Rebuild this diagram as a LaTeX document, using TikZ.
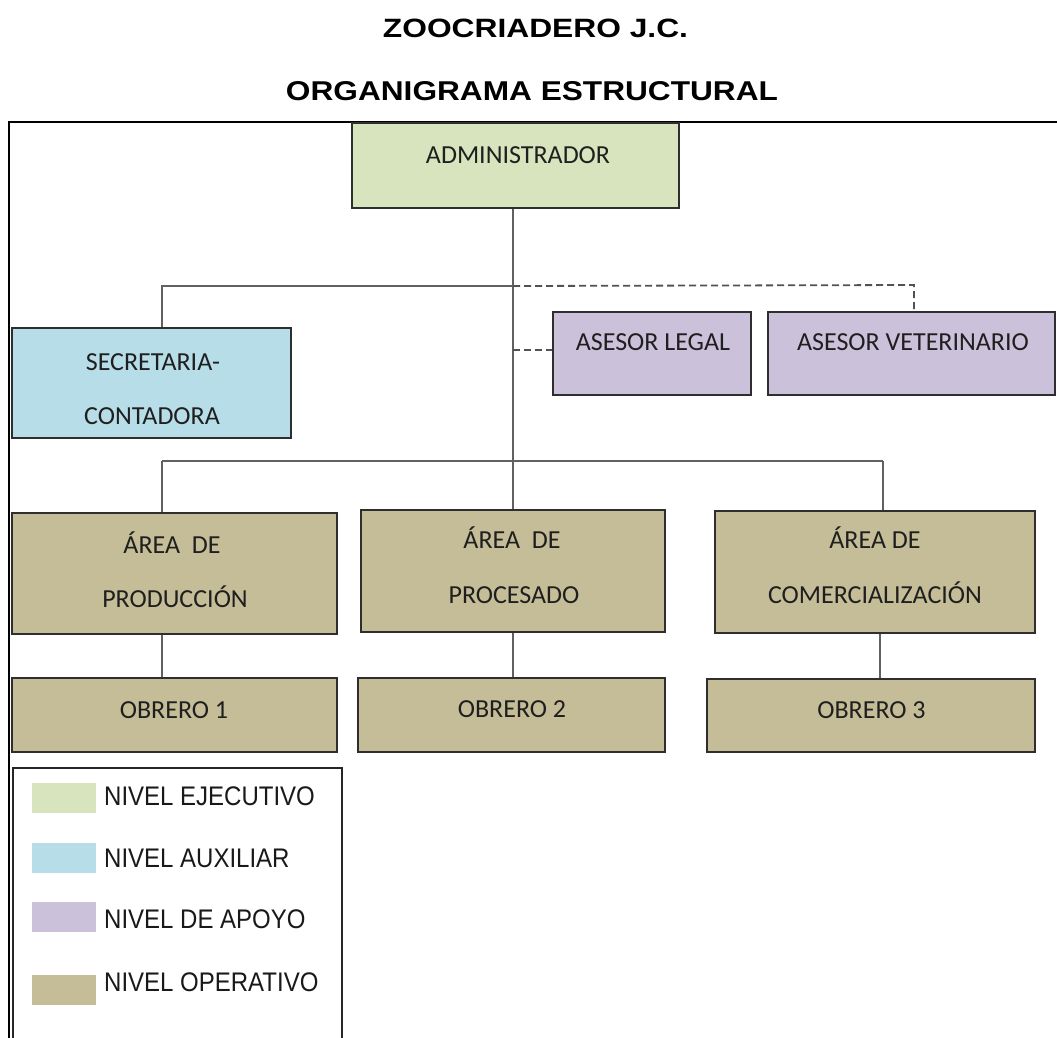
\documentclass[tikz,border=0pt]{standalone}
\usepackage{fontspec}
\setmainfont{Carlito}
\newfontfamily\arialfont{Liberation Sans}
\usepackage{graphicx}
\definecolor{cEje}{HTML}{D7E4BD}
\definecolor{cAux}{HTML}{B7DEE8}
\definecolor{cApo}{HTML}{CCC1DA}
\definecolor{cOpe}{HTML}{C4BD97}
\tikzset{
  orgbox/.style={draw=black!82, line width=1.8pt, rectangle, inner sep=0pt},
  lbl/.style={anchor=base, inner sep=0pt, text=black!88, font=\fontsize{26}{26}\selectfont},
  conn/.style={draw=black!62, line width=1.8pt},
  dconn/.style={draw=black!68, line width=1.8pt, dash pattern=on 7pt off 4pt},
  legtxt/.style={anchor=base west, inner sep=0pt, text=black!90},
  swatch/.style={rectangle, inner sep=0pt, minimum width=64pt, minimum height=30pt}
}
\newcommand{\legfont}[1]{\scalebox{1}[1.12]{\arialfont\fontsize{24}{24}\selectfont #1}}
\begin{document}
\begin{tikzpicture}[x=1pt,y=-1pt]
\useasboundingbox[fill=white] (0,0) rectangle (1057,1037);

% titles
\node[anchor=base, inner sep=0pt] (t1) at (535.5,37) {\resizebox{305pt}{18.5pt}{\arialfont\bfseries ZOOCRIADERO J.C.}};
\node[anchor=base, inner sep=0pt] (t2) at (532,100) {\resizebox{492pt}{19pt}{\arialfont\bfseries ORGANIGRAMA ESTRUCTURAL}};

% frame
\draw[black, line width=1.5pt] (1060,122) -- (9,122) -- (9,1040);

% boxes
\node[orgbox, fill=cEje, minimum width=327pt, minimum height=85pt] (admin) at (515.5,165.5) {};
\node[orgbox, fill=cAux, minimum width=279pt, minimum height=110pt] (sec) at (151.5,383) {};
\node[orgbox, fill=cApo, minimum width=198pt, minimum height=83pt] (legal) at (652,353.5) {};
\node[orgbox, fill=cApo, minimum width=287pt, minimum height=83pt] (vet) at (911.5,353.5) {};
\node[orgbox, fill=cOpe, minimum width=325pt, minimum height=121pt] (prod) at (174.5,573.5) {};
\node[orgbox, fill=cOpe, minimum width=304pt, minimum height=122pt] (proc) at (513,571) {};
\node[orgbox, fill=cOpe, minimum width=320pt, minimum height=122pt] (com) at (875,572) {};
\node[orgbox, fill=cOpe, minimum width=325pt, minimum height=74pt] (ob1) at (174.5,715) {};
\node[orgbox, fill=cOpe, minimum width=307pt, minimum height=74pt] (ob2) at (511.5,715) {};
\node[orgbox, fill=cOpe, minimum width=328pt, minimum height=73pt] (ob3) at (871,715.5) {};

% box texts
\node[lbl] (tadmin) at (518,163) {ADMINISTRADOR};
\node[lbl] (tsec1) at (153,370) {SECRETARIA-};
\node[lbl] (tsec2) at (152,424) {CONTADORA};
\node[lbl] (tlegal) at (653,350) {ASESOR LEGAL};
\node[lbl] (tvet) at (913,350) {ASESOR VETERINARIO};
\node[lbl] (tprod1) at (172,553) {ÁREA\ \ DE};
\node[lbl] (tprod2) at (175,607) {PRODUCCIÓN};
\node[lbl] (tproc1) at (512,548) {ÁREA\ \ DE};
\node[lbl] (tproc2) at (514,603) {PROCESADO};
\node[lbl] (tcom1) at (875,548) {ÁREA DE};
\node[lbl] (tcom2) at (875,603) {COMERCIALIZACIÓN};
\node[lbl] (tob1) at (174,718) {OBRERO 1};
\node[lbl] (tob2) at (512,717) {OBRERO 2};
\node[lbl] (tob3) at (871.5,718) {OBRERO 3};

% connectors
\coordinate (sj) at (513,286);
\coordinate (sl) at (162,286);
\coordinate (dr) at (914,285);
\coordinate (lj) at (513,350);
\coordinate (bl) at (162,461);
\coordinate (br) at (883,461);
\coordinate (cd) at (880,700);
\draw[conn] (admin.south -| proc.north) -- (proc.north);
\draw[conn] (sj) -- (sl) -- (sl |- sec.north);
\draw[dconn] (sj) -- (dr) -- (dr |- vet.north);
\draw[dconn] (lj) -- (lj -| legal.west);
\draw[conn] (bl) -- (br);
\draw[conn] (bl) -- (bl |- prod.north);
\draw[conn] (br) -- (br |- com.north);
\draw[conn] (prod.south -| bl) -- (ob1.north -| bl);
\draw[conn] (proc.south) -- (ob2.north -| proc.south);
\draw[conn] (com.south -| cd) -- (ob3.north -| cd);

% legend
\draw[black!85, line width=1.5pt] (13,1045) -- (13,768) -- (342,768) -- (342,1045);
\node[swatch, fill=cEje] (sw1) at (64,798) {};
\node[swatch, fill=cAux] (sw2) at (64,857.5) {};
\node[swatch, fill=cApo] (sw3) at (64,917) {};
\node[swatch, fill=cOpe] (sw4) at (64,990) {};
\node[legtxt] (l1) at (104,805) {\legfont{NIVEL EJECUTIVO}};
\node[legtxt] (l2) at (104,867) {\legfont{NIVEL AUXILIAR}};
\node[legtxt] (l3) at (104,928) {\legfont{NIVEL DE APOYO}};
\node[legtxt] (l4) at (104,991) {\legfont{NIVEL OPERATIVO}};
\end{tikzpicture}
\end{document}
